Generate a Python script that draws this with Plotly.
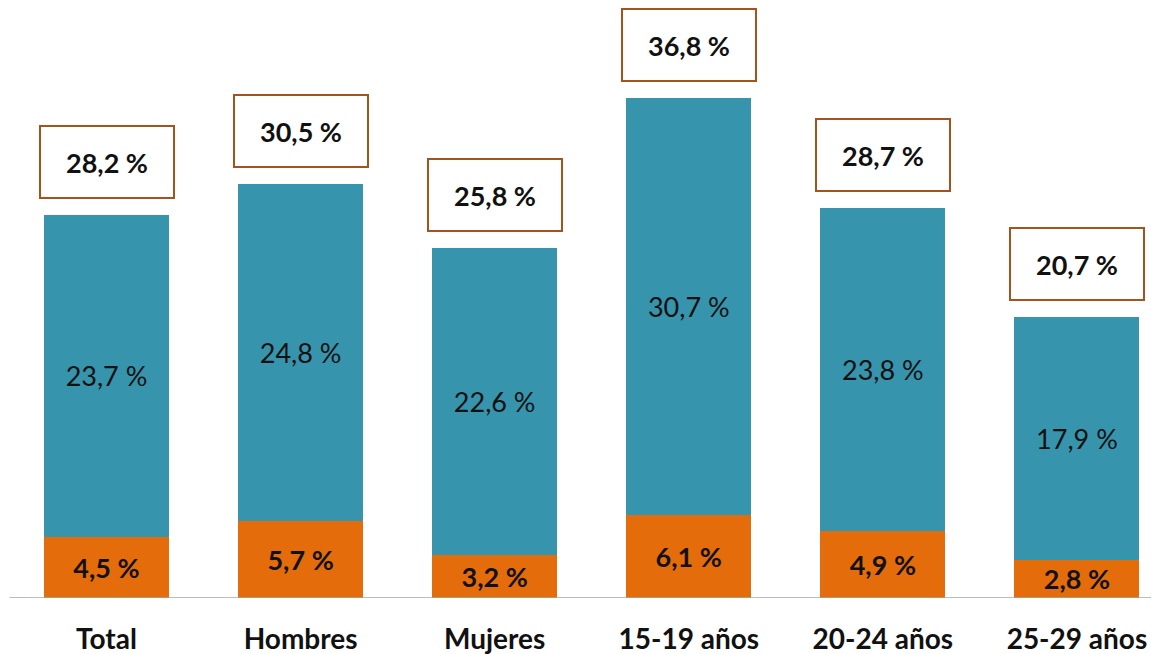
import plotly.graph_objects as go

categories = ["Total", "Hombres", "Mujeres", "15-19 años", "20-24 años", "25-29 años"]
bottom_vals = [4.5, 5.7, 3.2, 6.1, 4.9, 2.8]
top_vals = [23.7, 24.8, 22.6, 30.7, 23.8, 17.9]
total_vals = [28.2, 30.5, 25.8, 36.8, 28.7, 20.7]

def fmt(v):
    return f"{v:.1f}".replace(".", ",") + " %"

xs = list(range(len(categories)))
FONT = "Lato, 'Open Sans', sans-serif"
TEAL = "#3794AD"
ORANGE = "#E46C0A"
BROWN = "#A3541C"

fig = go.Figure()
fig.add_trace(go.Bar(
    x=xs, y=bottom_vals, width=0.644,
    marker=dict(color=ORANGE, line=dict(width=0)),
    text=[f"<b>{fmt(v)}</b>" for v in bottom_vals],
    textposition="inside", insidetextanchor="middle", constraintext="none",
    textfont=dict(family=FONT, size=27, color="#111111"),
    hoverinfo="skip", showlegend=False,
))
fig.add_trace(go.Bar(
    x=xs, y=top_vals, width=0.644,
    marker=dict(color=TEAL, line=dict(width=0)),
    text=[fmt(v) for v in top_vals],
    textposition="inside", insidetextanchor="middle", constraintext="none",
    textfont=dict(family=FONT, size=27, color="#111111"),
    hoverinfo="skip", showlegend=False,
))

for x, t in zip(xs, total_vals):
    fig.add_annotation(
        x=x, y=t, xref="x", yref="y",
        text=f"<b>{fmt(t)}</b>", showarrow=False,
        yanchor="bottom", yshift=16,
        width=130, height=68, borderpad=1,
        bordercolor=BROWN, borderwidth=2, bgcolor="white",
        font=dict(family=FONT, size=27, color="#111111"),
    )

fig.add_shape(type="line", xref="x", yref="y", x0=-0.5, x1=5.464, y0=0, y1=0,
              line=dict(color="#A6A6A6", width=1.5))

fig.update_layout(
    barmode="stack",
    width=1159, height=654,
    margin=dict(l=0, r=0, t=0, b=64),
    paper_bgcolor="white", plot_bgcolor="white",
    xaxis=dict(
        range=[-0.5075, 5.464], tickvals=xs,
        ticktext=[f"<b>{c}</b>" for c in categories],
        tickfont=dict(family=FONT, size=28, color="#111111"),
        showgrid=False, zeroline=False, showline=False, ticks="",
        ticklabelstandoff=22,
    ),
    yaxis=dict(range=[0, 590 / 13.58], visible=False, showgrid=False, zeroline=False),
)

fig.write_html("out.html")
